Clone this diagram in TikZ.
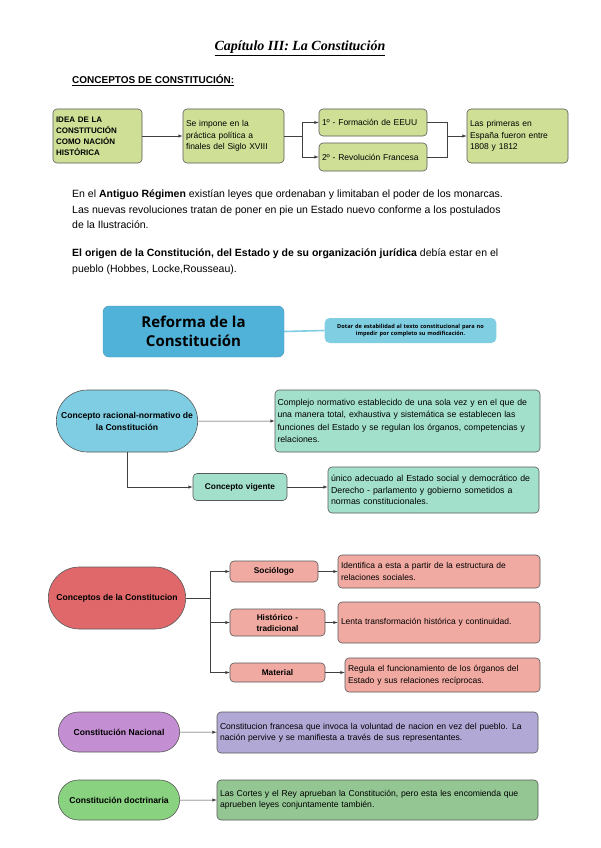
\documentclass[tikz,border=0pt]{standalone}
\usepackage{fontspec}
\setmainfont{Liberation Sans}
\newfontfamily\titulofont{Liberation Serif}
\newfontfamily\reformafont{Open Sans}
\usetikzlibrary{arrows}
\usetikzlibrary{shapes.misc}
\definecolor{verdeoliva}{RGB}{207,224,150}
\definecolor{azulreforma}{RGB}{80,178,216}
\definecolor{azulnota}{RGB}{128,206,226}
\definecolor{azulcapsula}{RGB}{126,205,226}
\definecolor{verdeagua}{RGB}{163,224,204}
\definecolor{rojocapsula}{RGB}{224,104,106}
\definecolor{rosacaja}{RGB}{241,170,162}
\definecolor{moradocapsula}{RGB}{196,142,210}
\definecolor{lilacaja}{RGB}{178,168,214}
\definecolor{verdecapsula}{RGB}{137,210,128}
\definecolor{verdecaja}{RGB}{148,198,148}
\tikzset{
  caja/.style={draw=black!65, line width=0.6pt, rounded corners=4pt, inner sep=3pt, align=left,
    font=\fontsize{8.5}{11.5}\selectfont},
  titular/.style={caja, align=center, font=\fontsize{8.3}{11}\selectfont\bfseries},
  capsula/.style={rounded rectangle, draw=black!65, line width=0.6pt, align=center,
    font=\fontsize{8.6}{12}\selectfont\bfseries},
  flecha/.style={draw=black!75, line width=0.5pt, -latex},
  linea/.style={draw=black!75, line width=0.5pt},
}

\begin{document}
\begin{tikzpicture}[x=1pt,y=-1pt]
\fill[white] (0,0) rectangle (600,848);
\useasboundingbox (0,0) rectangle (600,848);

\node[font=\titulofont\bfseries\itshape\fontsize{14}{16}\selectfont] (titulo) at (300,48) {\underline{Capítulo III: La Constitución}};
\node[anchor=west, inner sep=0pt, font=\fontsize{10}{12}\selectfont\bfseries] (conceptos-tit) at (72,80) {\underline{CONCEPTOS DE CONSTITUCIÓN:}};

% primera fila
\node[caja, fill=verdeoliva, text width=83pt, minimum height=54pt, font=\fontsize{8}{11}\selectfont\bfseries] (idea) at (97.5,136) {IDEA DE LA\\CONSTITUCIÓN\\COMO NACIÓN\\HISTÓRICA};
\node[caja, fill=verdeoliva, text width=95pt, minimum height=54pt] (impone) at (233.5,136) {Se impone en la\\práctica política a\\finales del Siglo XVIII};
\node[caja, fill=verdeoliva, text width=102pt, minimum height=27pt] (eeuu) at (373,122.5) {1º - Formación de EEUU};
\node[caja, fill=verdeoliva, text width=102pt, minimum height=28pt] (francia) at (373,157) {2º - Revolución Francesa};
\node[caja, fill=verdeoliva, text width=95pt, minimum height=54pt] (espana) at (517.5,136) {Las primeras en\\España fueron entre\\1808 y 1812};
\coordinate (bif) at (302,136);
\coordinate (junta) at (447,136);

\draw[flecha] (idea) -- (impone);
\draw[linea] (impone.east) -- (bif);
\draw[flecha] (bif) |- (eeuu.west);
\draw[flecha] (bif) |- (francia.west);
\draw[linea] (eeuu.east) -| (junta);
\draw[linea] (francia.east) -| (junta);
\draw[flecha] (junta) -- (espana.west);

\node[anchor=north west, align=left, inner sep=0pt, font=\fontsize{10.5}{15.5}\selectfont] (parrafo-a) at (72,190) {En el \textbf{Antiguo Régimen} existían leyes que ordenaban y limitaban el poder de los monarcas.\\Las nuevas revoluciones tratan de poner en pie un Estado nuevo conforme a los postulados\\de la Ilustración.};
\node[anchor=north west, align=left, inner sep=0pt, font=\fontsize{10.5}{15.5}\selectfont] (parrafo-b) at (72,249) {\textbf{El origen de la Constitución, del Estado y de su organización jurídica} debía estar en el\\pueblo (Hobbes, Locke,Rousseau).};

% reforma
\node[fill=azulreforma, draw=azulreforma!85!black, rounded corners=6pt, minimum width=181pt, minimum height=51pt, align=center, font=\reformafont\bfseries\fontsize{15}{19}\selectfont] (reforma) at (193.5,331.5) {Reforma de la\\Constitución};
\node[fill=azulnota, rounded corners=5pt, text width=165pt, minimum height=25pt, align=center, font=\reformafont\bfseries\fontsize{5.6}{7.5}\selectfont] (nota) at (410.5,330.5) {Dotar de estabilidad al texto constitucional para no\\impedir por completo su modificación.};
\draw[color=azulnota, line width=1.6pt] (reforma.east) -- (nota.west);

% concepto racional-normativo
\node[capsula, fill=azulcapsula, minimum width=140pt, minimum height=62pt] (racional) at (127,421) {Concepto racional-normativo de\\la Constitución};
\node[caja, fill=verdeagua, inner xsep=2.5pt, text width=260pt, minimum height=62pt, font=\fontsize{8.7}{12.5}\selectfont] (complejo) at (407.5,421) {Complejo normativo establecido de una sola vez y en el que de\\una manera total, exhaustiva y sistemática se establecen las\\funciones del Estado y se regulan los órganos, competencias y\\relaciones.};
\node[titular, fill=verdeagua, text width=88pt, minimum height=27pt] (vigente) at (240,487) {Concepto vigente};
\node[caja, fill=verdeagua, text width=205pt, minimum height=46pt, font=\fontsize{8.8}{11.5}\selectfont] (unico) at (433.5,490) {único adecuado al Estado social y democrático de\\Derecho - parlamento y gobierno sometidos a\\normas constitucionales.};

\draw[flecha] (racional) -- (complejo);
\draw[flecha] (racional.south) |- (vigente.west);
\draw[flecha] (vigente.east) -- (vigente.east -| unico.west);

% conceptos de la constitucion
\node[capsula, fill=rojocapsula, minimum width=144pt, minimum height=62pt] (conceptos) at (117,598) {Conceptos de la Constitucion};
\node[titular, fill=rosacaja, text width=82pt, minimum height=21pt] (sociologo) at (274,571.5) {Sociólogo};
\node[titular, fill=rosacaja, text width=89pt, minimum height=27pt] (historico) at (277.5,622.5) {Histórico -\\tradicional};
\node[titular, fill=rosacaja, text width=89pt, minimum height=19pt] (material) at (277.5,672.5) {Material};
\node[caja, fill=rosacaja, text width=196pt, minimum height=33pt] (identifica) at (439,571.5) {Identifica a esta a partir de la estructura de\\relaciones sociales.};
\node[caja, fill=rosacaja, text width=196pt, minimum height=41pt] (lenta) at (439,622.5) {Lenta transformación histórica y continuidad.};
\node[caja, fill=rosacaja, text width=189pt, minimum height=34pt] (regula) at (442.5,675) {Regula el funcionamiento de los órganos del\\Estado y sus relaciones recíprocas.};
\coordinate (tronco) at (210,598);

\draw[linea, line width=0.8pt] (conceptos.east) -- (tronco);
\foreach \rama in {sociologo,historico,material}{
  \draw[flecha] (tronco) |- (\rama.west);
}
\draw[flecha] (sociologo.east) -- (sociologo.east -| identifica.west);
\draw[flecha] (historico.east) -- (historico.east -| lenta.west);
\draw[flecha] (material.east) -- (material.east -| regula.west);

% nacional y doctrinaria
\node[capsula, fill=moradocapsula, minimum width=128pt, minimum height=40pt] (nacional) at (119,732) {Constitución Nacional};
\node[caja, fill=lilacaja, text width=315pt, minimum height=41pt, font=\fontsize{8.6}{11}\selectfont] (francesa) at (377.5,732.5) {Constitucion francesa que invoca la voluntad de nacion en vez del pueblo. La\\nación pervive y se manifiesta a través de sus representantes.};
\node[capsula, fill=verdecapsula, minimum width=128pt, minimum height=40pt] (doctrinaria) at (119,800) {Constitución doctrinaria};
\node[caja, fill=verdecaja, text width=315pt, minimum height=40pt, font=\fontsize{8.6}{11}\selectfont] (cortes) at (377.5,800) {Las Cortes y el Rey aprueban la Constitución, pero esta les encomienda que\\aprueben leyes conjuntamente también.};

\draw[flecha] (nacional) -- (francesa);
\draw[flecha] (doctrinaria) -- (cortes);
\end{tikzpicture}
\end{document}
